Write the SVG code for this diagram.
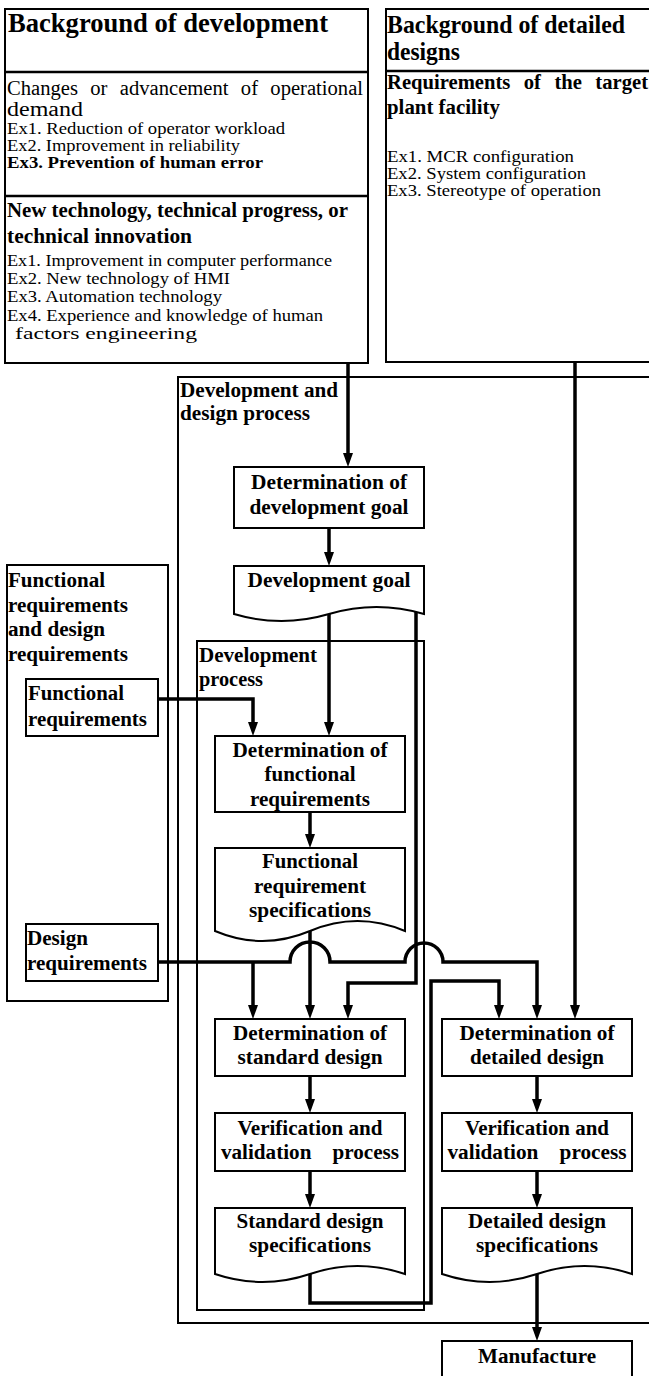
<svg xmlns="http://www.w3.org/2000/svg" width="649" height="1376" viewBox="0 0 649 1376">
<style>
text { font-family: "Liberation Serif", "Times New Roman", serif; fill: #000; }
.h1 { font-size: 27px; font-weight: bold; }
.h2 { font-size: 25px; font-weight: bold; }
.gl { font-size: 20px; font-weight: bold; }
.nb { font-size: 20px; font-weight: bold; text-anchor: middle; }
.lb { font-size: 20px; font-weight: bold; }
.rg { font-size: 16px; }
.rb { font-size: 16px; font-weight: bold; }
.big { font-size: 20px; }
.box { fill: #fff; stroke: #000; stroke-width: 2; }
.grp { fill: none; stroke: #000; stroke-width: 2; }
.div { stroke: #000; stroke-width: 2.5; }
.con { fill: none; stroke: #000; stroke-width: 3.5; }
.arr { marker-end: url(#ah); }
</style>
<defs>
<marker id="ah" viewBox="0 0 14 10" refX="8" refY="5" markerWidth="14" markerHeight="10" markerUnits="userSpaceOnUse" orient="auto">
<path d="M0,0 L14,5 L0,10 Z" fill="#000"/>
</marker>
</defs>
<rect width="649" height="1376" fill="#fff"/>

<g id="grp-dev-design">
<rect class="grp" x="178" y="377" width="490" height="946"/>
<text class="gl" x="180" y="397" textLength="158" lengthAdjust="spacingAndGlyphs">Development and</text>
<text class="gl" x="180" y="420" textLength="130" lengthAdjust="spacingAndGlyphs">design process</text>
</g>

<g id="grp-func-design-req">
<rect class="grp" x="7" y="565" width="161" height="436"/>
<text class="gl" x="8" y="587" textLength="97" lengthAdjust="spacingAndGlyphs">Functional</text>
<text class="gl" x="8" y="612" textLength="120" lengthAdjust="spacingAndGlyphs">requirements</text>
<text class="gl" x="8" y="636" textLength="97" lengthAdjust="spacingAndGlyphs">and design</text>
<text class="gl" x="8" y="661" textLength="120" lengthAdjust="spacingAndGlyphs">requirements</text>
</g>

<g id="grp-dev-process">
<rect class="grp" x="197" y="641" width="227" height="669"/>
<text class="gl" x="199" y="662" textLength="118" lengthAdjust="spacingAndGlyphs">Development</text>
<text class="gl" x="199" y="686" textLength="64" lengthAdjust="spacingAndGlyphs">process</text>
</g>

<g id="bg-development">
<rect class="box" x="5" y="9" width="363" height="354" stroke-width="2.5"/>
<line class="div" x1="5" y1="72" x2="368" y2="72"/>
<line class="div" x1="5" y1="196" x2="368" y2="196"/>
<text class="h1" x="8" y="32" textLength="320" lengthAdjust="spacingAndGlyphs">Background of development</text>
<text class="big" x="7" y="95" word-spacing="7" textLength="356" lengthAdjust="spacingAndGlyphs">Changes or advancement of operational</text>
<text class="big" x="7" y="116" textLength="76" lengthAdjust="spacingAndGlyphs">demand</text>
<text class="rg" x="7" y="134" textLength="278" lengthAdjust="spacingAndGlyphs">Ex1. Reduction of operator workload</text>
<text class="rg" x="7" y="151" textLength="233" lengthAdjust="spacingAndGlyphs">Ex2. Improvement in reliability</text>
<text class="rb" x="7" y="168" textLength="256" lengthAdjust="spacingAndGlyphs">Ex3. Prevention of human error</text>
<text class="gl" x="7" y="217" font-size="21" textLength="341" lengthAdjust="spacingAndGlyphs">New technology, technical progress, or</text>
<text class="gl" x="7" y="243" font-size="21" textLength="185" lengthAdjust="spacingAndGlyphs">technical innovation</text>
<text class="rg" x="7" y="266" textLength="325" lengthAdjust="spacingAndGlyphs">Ex1. Improvement in computer performance</text>
<text class="rg" x="7" y="284" textLength="223" lengthAdjust="spacingAndGlyphs">Ex2. New technology of HMI</text>
<text class="rg" x="7" y="302" textLength="215" lengthAdjust="spacingAndGlyphs">Ex3. Automation technology</text>
<text class="rg" x="7" y="321" textLength="316" lengthAdjust="spacingAndGlyphs">Ex4. Experience and knowledge of human</text>
<text class="rg" x="15" y="339" textLength="182" lengthAdjust="spacingAndGlyphs">factors engineering</text>
</g>

<g id="bg-detailed">
<rect class="box" x="386" y="9" width="290" height="353" stroke-width="2.5"/>
<line class="div" x1="386" y1="71" x2="676" y2="71"/>
<text class="h2" x="387" y="33" textLength="238" lengthAdjust="spacingAndGlyphs">Background of detailed</text>
<text class="h2" x="387" y="60" textLength="73" lengthAdjust="spacingAndGlyphs">designs</text>
<text class="gl" x="387" y="89" font-size="21" word-spacing="8" textLength="261" lengthAdjust="spacingAndGlyphs">Requirements of the target</text>
<text class="gl" x="387" y="114" font-size="21" textLength="113" lengthAdjust="spacingAndGlyphs">plant facility</text>
<text class="rg" x="387" y="162" textLength="187" lengthAdjust="spacingAndGlyphs">Ex1. MCR configuration</text>
<text class="rg" x="387" y="179" textLength="199" lengthAdjust="spacingAndGlyphs">Ex2. System configuration</text>
<text class="rg" x="387" y="196" textLength="214" lengthAdjust="spacingAndGlyphs">Ex3. Stereotype of operation</text>
</g>

<g id="connectors">
<path class="con arr" d="M348,363 V461"/>
<path class="con arr" d="M329,528 V560"/>
<path class="con arr" d="M329,614 V730"/>
<path class="con arr" d="M158,699 H253 V730"/>
<path class="con arr" d="M310,812 V842"/>
<path class="con arr" d="M310,931 V1013"/>
<path class="con arr" d="M416,612 V983 H348 V1013"/>
<path class="con arr" d="M158,962 H290 A20,20 0 0 1 330,962 H405 A19,19 0 0 1 443,962 H537 V1013"/>
<path class="con arr" d="M253,962 V1013"/>
<path class="con arr" d="M310,1274 V1303 H431 V981 H499 V1013"/>
<path class="con arr" d="M575,362 V1013"/>
<path class="con arr" d="M310,1076 V1107"/>
<path class="con arr" d="M310,1171 V1202"/>
<path class="con arr" d="M537,1076 V1107"/>
<path class="con arr" d="M537,1171 V1202"/>
<path class="con arr" d="M537,1274 V1335"/>
</g>

<g id="det-dev-goal">
<rect class="box" x="234" y="467" width="190" height="61"/>
<text class="nb" x="329" y="489" textLength="156" lengthAdjust="spacingAndGlyphs">Determination of</text>
<text class="nb" x="329" y="514" textLength="159" lengthAdjust="spacingAndGlyphs">development goal</text>
</g>

<g id="dev-goal">
<path class="box" d="M234,566 H424 V614 Q376.5,600 329,614 Q281.5,628 234,614 Z"/>
<text class="nb" x="329" y="587" textLength="163" lengthAdjust="spacingAndGlyphs">Development goal</text>
</g>

<g id="func-req">
<rect class="box" x="26" y="679" width="132" height="57"/>
<text class="lb" x="28" y="700" textLength="96" lengthAdjust="spacingAndGlyphs">Functional</text>
<text class="lb" x="28" y="726" textLength="119" lengthAdjust="spacingAndGlyphs">requirements</text>
</g>

<g id="design-req">
<rect class="box" x="26" y="924" width="132" height="57"/>
<text class="lb" x="27" y="945" textLength="61" lengthAdjust="spacingAndGlyphs">Design</text>
<text class="lb" x="27" y="970" textLength="120" lengthAdjust="spacingAndGlyphs">requirements</text>
</g>

<g id="det-func-req">
<rect class="box" x="215" y="736" width="190" height="76"/>
<text class="nb" x="310" y="757" textLength="155" lengthAdjust="spacingAndGlyphs">Determination of</text>
<text class="nb" x="310" y="781" textLength="91" lengthAdjust="spacingAndGlyphs">functional</text>
<text class="nb" x="310" y="806" textLength="120" lengthAdjust="spacingAndGlyphs">requirements</text>
</g>

<g id="func-req-spec">
<path class="box" d="M215,848 H405 V931 Q357.5,911 310,931 Q262.5,951 215,931 Z"/>
<text class="nb" x="310" y="868" textLength="96" lengthAdjust="spacingAndGlyphs">Functional</text>
<text class="nb" x="310" y="893" textLength="112" lengthAdjust="spacingAndGlyphs">requirement</text>
<text class="nb" x="310" y="917" textLength="122" lengthAdjust="spacingAndGlyphs">specifications</text>
</g>

<g id="det-std-design">
<rect class="box" x="215" y="1019" width="190" height="57"/>
<text class="nb" x="310" y="1040" textLength="154" lengthAdjust="spacingAndGlyphs">Determination of</text>
<text class="nb" x="310" y="1064" textLength="145" lengthAdjust="spacingAndGlyphs">standard design</text>
</g>

<g id="vv-std">
<rect class="box" x="215" y="1113" width="190" height="58"/>
<text class="nb" x="310" y="1135" textLength="145" lengthAdjust="spacingAndGlyphs">Verification and</text>
<text class="nb" x="310" y="1159" word-spacing="15" textLength="178" lengthAdjust="spacingAndGlyphs">validation process</text>
</g>

<g id="std-spec">
<path class="box" d="M215,1208 H405 V1274 Q357.5,1258 310,1274 Q262.5,1290 215,1274 Z"/>
<text class="nb" x="310" y="1228" textLength="147" lengthAdjust="spacingAndGlyphs">Standard design</text>
<text class="nb" x="310" y="1252" textLength="122" lengthAdjust="spacingAndGlyphs">specifications</text>
</g>

<g id="det-detailed-design">
<rect class="box" x="442" y="1019" width="190" height="57"/>
<text class="nb" x="537" y="1040" textLength="155" lengthAdjust="spacingAndGlyphs">Determination of</text>
<text class="nb" x="537" y="1064" textLength="134" lengthAdjust="spacingAndGlyphs">detailed design</text>
</g>

<g id="vv-detailed">
<rect class="box" x="442" y="1113" width="190" height="58"/>
<text class="nb" x="537" y="1135" textLength="144" lengthAdjust="spacingAndGlyphs">Verification and</text>
<text class="nb" x="537" y="1159" word-spacing="15" textLength="179" lengthAdjust="spacingAndGlyphs">validation process</text>
</g>

<g id="detailed-spec">
<path class="box" d="M442,1208 H632 V1274 Q584.5,1258 537,1274 Q489.5,1290 442,1274 Z"/>
<text class="nb" x="537" y="1228" textLength="138" lengthAdjust="spacingAndGlyphs">Detailed design</text>
<text class="nb" x="537" y="1252" textLength="122" lengthAdjust="spacingAndGlyphs">specifications</text>
</g>

<g id="manufacture">
<rect class="box" x="442" y="1341" width="190" height="50"/>
<text class="nb" x="537" y="1363" textLength="118" lengthAdjust="spacingAndGlyphs">Manufacture</text>
</g>
</svg>
